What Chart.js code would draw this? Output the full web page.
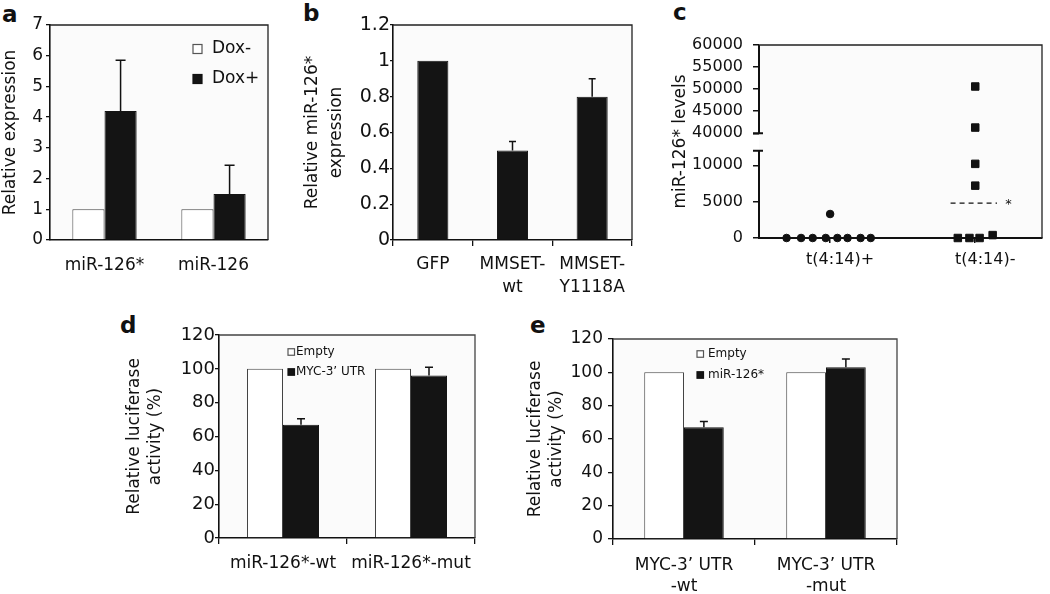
<!DOCTYPE html>
<html>
<head>
<meta charset="utf-8">
<script src="https://cdn.jsdelivr.net/npm/chart.js@4.4.1/dist/chart.umd.min.js"></script>
<style>
  body { margin: 0; background: #fff; width: 1050px; height: 594px; position: relative; overflow: hidden; }
  canvas { position: absolute; }
  .lbl { position: absolute; font: bold 23px "DejaVu Sans"; line-height: 23px; color: #111; }
</style>
</head>
<body>
<div class="lbl" style="left:2px;top:3px">a</div>
<div class="lbl" style="left:303px;top:2px">b</div>
<div class="lbl" style="left:673px;top:1px">c</div>
<div class="lbl" style="left:120px;top:314px">d</div>
<div class="lbl" style="left:530px;top:314px">e</div>

<canvas id="chartA" width="290" height="297" style="left:0px;top:0px"></canvas>
<canvas id="chartB" width="349" height="297" style="left:301px;top:0px"></canvas>
<canvas id="chartC" width="380" height="297" style="left:670px;top:0px"></canvas>
<canvas id="chartD" width="365" height="297" style="left:125px;top:297px"></canvas>
<canvas id="chartE" width="400" height="297" style="left:525px;top:297px"></canvas>

<script>
// ---- data: panel a
const aCategories = ['miR-126*', 'miR-126'];
const aDoxMinus = [1, 1];
const aDoxPlus = [4.2, 1.5];
const aDoxPlusErr = [5.85, 2.43];
const aTicks = [0, 1, 2, 3, 4, 5, 6, 7];

// ---- data: panel b
const bCategories = ['GFP', ['MMSET-', 'wt'], ['MMSET-', 'Y1118A']];
const bValues = [1, 0.5, 0.8];
const bErr = [null, 0.55, 0.9];
const bTicks = [0, 0.2, 0.4, 0.6, 0.8, 1, 1.2];

// ---- data: panel c (x = category index + jitter)
const cCategories = ['t(4:14)+', 't(4:14)-'];
const cPlusX = [0.70, 0.80, 0.88, 0.97, 1.05, 1.12, 1.21, 1.28, 1.00];
const cPlusY = [0, 0, 0, 0, 0, 0, 0, 0, 3300];
const cMinusX = [1.88, 1.96, 2.03, 2.12, 2.00, 2.00, 2.00, 2.00];
const cMinusY = [0, 0, 0, 400, 7200, 10200, 41300, 50600];
const cMeanX = [1.83, 2.15];
const cMeanY = [4800, 4800];
const cStar = { x: 2.23, y: 4800 };
const cTicks = [0, 5000, 10000, 40000, 45000, 50000, 55000, 60000];
const cLowMax = 12000;
const cHighMin = 40000;

// ---- data: panel d
const dCategories = ['miR-126*-wt', 'miR-126*-mut'];
const dEmpty = [100, 100];
const dMyc = [67, 96];
const dMycErr = [70.5, 101];
const dTicks = [0, 20, 40, 60, 80, 100, 120];

// ---- data: panel e
const eCategories = [['MYC-3\u2019 UTR', '-wt'], ['MYC-3\u2019 UTR', '-mut']];
const eEmpty = [100, 100];
const eMir = [67, 103];
const eMirErr = [70.5, 108];
const eTicks = [0, 20, 40, 60, 80, 100, 120];

Chart.defaults.font.family = '"DejaVu Sans"';
Chart.defaults.color = '#111';
Chart.defaults.animation = false;

const INK = '#111';

// error bars, upward only
const errorBars = {
  id: 'errorBars',
  afterDatasetsDraw(chart, args, opts) {
    const ctx = chart.ctx;
    chart.data.datasets.forEach((ds, i) => {
      if (!ds.errTop) return;
      const meta = chart.getDatasetMeta(i);
      const ys = chart.scales[meta.yAxisID];
      ctx.save();
      ctx.strokeStyle = INK;
      ctx.lineWidth = 1.5;
      meta.data.forEach((bar, j) => {
        const e = ds.errTop[j];
        if (e == null) return;
        const top = ys.getPixelForValue(e);
        const half = (opts.cap || 8) / 2;
        ctx.beginPath();
        ctx.moveTo(bar.x, bar.y);
        ctx.lineTo(bar.x, top);
        ctx.moveTo(bar.x - half, top);
        ctx.lineTo(bar.x + half, top);
        ctx.stroke();
      });
      ctx.restore();
    });
  }
};

// plot background + top/right frame lines
const frame = {
  id: 'frame',
  beforeDraw(chart) {
    const { ctx, chartArea: a } = chart;
    ctx.save();
    ctx.fillStyle = '#fbfbfb';
    ctx.fillRect(a.left, a.top, a.right - a.left, a.bottom - a.top);
    ctx.restore();
  },
  afterDraw(chart, args, opts) {
    const { ctx, chartArea: a } = chart;
    ctx.save();
    ctx.strokeStyle = opts.color || '#222';
    ctx.lineWidth = 1.3;
    ctx.beginPath();
    ctx.moveTo(a.left, a.top);
    ctx.lineTo(a.right, a.top);
    ctx.lineTo(a.right, a.bottom);
    ctx.stroke();
    ctx.restore();
  }
};

// legend with little boxes at a fixed spot
const boxLegend = {
  id: 'boxLegend',
  afterDraw(chart, args, o) {
    if (!o.rows) return;
    const ctx = chart.ctx;
    ctx.save();
    ctx.font = o.size + 'px "DejaVu Sans"';
    ctx.textBaseline = 'middle';
    chart.data.datasets.forEach((ds, i) => {
      const cy = o.rows[i];
      ctx.fillStyle = ds.backgroundColor;
      ctx.fillRect(o.x, cy - o.box / 2, o.box, o.box);
      ctx.strokeStyle = ds.backgroundColor === '#ffffff' ? '#555' : INK;
      ctx.lineWidth = 1.2;
      ctx.strokeRect(o.x, cy - o.box / 2, o.box, o.box);
      ctx.fillStyle = INK;
      ctx.fillText(ds.label, o.textX, cy);
    });
    ctx.restore();
  }
};

// broken y scale for panel c
class BrokenScale extends Chart.LinearScale {
  static id = 'broken';
  static defaults = Chart.LinearScale.defaults;
  buildTicks() { return cTicks.map(v => ({ value: v })); }
  frac(v) {
    const lowFrac = 0.452, highFrac = 0.5425;
    if (v <= cLowMax) return v / cLowMax * lowFrac;
    return highFrac + (v - cHighMin) / (this.max - cHighMin) * (1 - highFrac);
  }
  getPixelForValue(v) { return this.bottom - this.frac(v) * (this.bottom - this.top); }
  getValueForPixel(p) {
    const f = (this.bottom - p) / (this.bottom - this.top);
    return f <= 0.452 ? f / 0.452 * cLowMax : cHighMin + (f - 0.5425) / (1 - 0.5425) * (this.max - cHighMin);
  }
}
Chart.register(BrokenScale);

const brokenAxis = {
  id: 'brokenAxis',
  beforeDatasetsDraw(chart) {
    const ys = chart.scales.y;
    if (ys.type !== 'broken') return;
    const ctx = chart.ctx;
    const x = chart.chartArea.left;
    const yLowTop = ys.getPixelForValue(cLowMax);
    const yHighBot = ys.getPixelForValue(cHighMin);
    ctx.save();
    ctx.strokeStyle = INK;
    ctx.lineWidth = 2;
    ctx.beginPath();
    ctx.moveTo(x, ys.bottom); ctx.lineTo(x, yLowTop);
    ctx.moveTo(x - 6, yLowTop); ctx.lineTo(x + 4, yLowTop);
    ctx.moveTo(x, yHighBot); ctx.lineTo(x, ys.top);
    ctx.moveTo(x - 6, yHighBot); ctx.lineTo(x + 4, yHighBot);
    ctx.stroke();
    // the asterisk next to the dashed line
    ctx.fillStyle = INK;
    ctx.font = '13px "DejaVu Sans"';
    ctx.textAlign = 'center';
    ctx.textBaseline = 'middle';
    ctx.fillText('*', chart.scales.x.getPixelForValue(cStar.x), ys.getPixelForValue(cStar.y) + 2);
    ctx.restore();
  }
};

Chart.register(errorBars, frame, boxLegend, brokenAxis);

function yAxis(ticksArr, o) {
  return {
    min: ticksArr[0],
    max: ticksArr[ticksArr.length - 1],
    afterBuildTicks: s => { s.ticks = ticksArr.map(v => ({ value: v })); },
    ticks: { font: { size: o.size }, padding: o.pad, callback: v => String(v), autoSkip: false },
    grid: { drawOnChartArea: false, tickLength: o.tick, color: INK, lineWidth: 1.3 },
    border: { color: INK, width: 1.6 },
    title: { display: true, text: o.title, font: { size: 17, lineHeight: o.lh || 1.2 }, padding: 0 },
    afterFit: s => { s.width = o.width; }
  };
}

function xAxis(o) {
  return {
    ticks: { font: { size: 17, lineHeight: o.lh || 1.2 }, padding: o.pad, maxRotation: 0, autoSkip: false },
    grid: { drawOnChartArea: false, drawTicks: o.tick > 0, tickLength: o.tick, color: INK, lineWidth: 1.3, offset: true },
    border: { color: INK, width: 1.6 },
    afterFit: s => { s.height = o.height; }
  };
}

const white = { backgroundColor: '#ffffff', borderColor: '#444', borderWidth: 1 };
const black = { backgroundColor: '#141414', borderColor: '#141414', borderWidth: 1 };

// panel a
new Chart(document.getElementById('chartA'), {
  type: 'bar',
  data: {
    labels: aCategories,
    datasets: [
      { label: 'Dox-', data: aDoxMinus, ...white },
      { label: 'Dox+', data: aDoxPlus, errTop: aDoxPlusErr, ...black }
    ]
  },
  options: {
    responsive: false,
    layout: { padding: { top: 25, right: 22, left: 0, bottom: 0 } },
    datasets: { bar: { categoryPercentage: 0.59, barPercentage: 1 } },
    scales: {
      x: xAxis({ pad: 15, tick: 0, height: 57 }),
      y: yAxis(aTicks, { size: 17, pad: 3, tick: 4, width: 50, title: 'Relative expression' })
    },
    plugins: {
      legend: { display: false }, tooltip: { enabled: false },
      errorBars: { cap: 10 },
      boxLegend: { x: 193, textX: 212, rows: [49, 79], box: 9, size: 17 }
    }
  }
});

// panel b
new Chart(document.getElementById('chartB'), {
  type: 'bar',
  data: {
    labels: bCategories,
    datasets: [{ label: 'b', data: bValues, errTop: bErr, ...black }]
  },
  options: {
    responsive: false,
    layout: { padding: { top: 25, right: 18, left: 0, bottom: 0 } },
    datasets: { bar: { categoryPercentage: 1, barPercentage: 0.39 } },
    scales: {
      x: xAxis({ pad: 8, tick: 6, height: 57, lh: 1.3 }),
      y: yAxis(bTicks, { size: 19, pad: 0, tick: 3, width: 92, lh: 1.4, title: ['Relative miR-126*', 'expression'] })
    },
    plugins: {
      legend: { display: false }, tooltip: { enabled: false },
      errorBars: { cap: 7 }
    }
  }
});

// panel c
new Chart(document.getElementById('chartC'), {
  type: 'scatter',
  data: {
    datasets: [
      { label: cCategories[0], data: cPlusX.map((x, i) => ({ x, y: cPlusY[i] })),
        pointStyle: 'circle', pointRadius: 3.8, backgroundColor: INK, borderColor: INK, clip: false },
      { label: cCategories[1], data: cMinusX.map((x, i) => ({ x, y: cMinusY[i] })),
        pointStyle: 'rect', pointRadius: 5.3, backgroundColor: INK, borderColor: INK, clip: false },
      { label: 'mean', data: cMeanX.map((x, i) => ({ x, y: cMeanY[i] })), showLine: true,
        pointRadius: 0, borderColor: INK, borderWidth: 1.2, borderDash: [5, 4] }
    ]
  },
  options: {
    responsive: false,
    layout: { padding: { top: 45, right: 8, left: 0, bottom: 0 } },
    scales: {
      x: {
        type: 'linear', min: 0.51, max: 2.46,
        afterBuildTicks: s => { s.ticks = [{ value: 1 }, { value: 2 }]; },
        ticks: { font: { size: 16 }, padding: 7, labelOffset: 10, callback: v => cCategories[v - 1] },
        grid: { drawOnChartArea: false, tickLength: 5, color: INK, lineWidth: 1.5 },
        border: { color: INK, width: 2 },
        afterFit: s => { s.height = 59; }
      },
      y: {
        type: 'broken', min: 0, max: 60000,
        ticks: { font: { size: 16 }, padding: 10, autoSkip: false, callback: v => String(v) },
        grid: { drawOnChartArea: false, tickLength: 6, color: INK, lineWidth: 1.5 },
        border: { display: false },
        title: { display: true, text: 'miR-126* levels', font: { size: 17 }, padding: 0 },
        afterFit: s => { s.width = 89; }
      }
    },
    plugins: { legend: { display: false }, tooltip: { enabled: false } }
  }
});

// panel d
new Chart(document.getElementById('chartD'), {
  type: 'bar',
  data: {
    labels: dCategories,
    datasets: [
      { label: 'Empty', data: dEmpty, ...white },
      { label: 'MYC-3\u2019 UTR', data: dMyc, errTop: dMycErr, ...black }
    ]
  },
  options: {
    responsive: false,
    layout: { padding: { top: 38, right: 15, left: 0, bottom: 0 } },
    datasets: { bar: { categoryPercentage: 0.5625, barPercentage: 1 } },
    scales: {
      x: xAxis({ pad: 9, tick: 6, height: 56 }),
      y: yAxis(dTicks, { size: 18, pad: 0, tick: 4, width: 94, lh: 1.18, title: ['Relative luciferase', 'activity (%)'] })
    },
    plugins: {
      legend: { display: false }, tooltip: { enabled: false },
      frame: { color: '#444' },
      errorBars: { cap: 8 },
      boxLegend: { x: 163, textX: 171, rows: [55, 75], box: 6.5, size: 12 }
    }
  }
});

// panel e
new Chart(document.getElementById('chartE'), {
  type: 'bar',
  data: {
    labels: eCategories,
    datasets: [
      { label: 'Empty', data: eEmpty, ...white },
      { label: 'miR-126*', data: eMir, errTop: eMirErr, ...black }
    ]
  },
  options: {
    responsive: false,
    layout: { padding: { top: 42, right: 28, left: 0, bottom: 0 } },
    datasets: { bar: { categoryPercentage: 0.56, barPercentage: 1 } },
    scales: {
      x: xAxis({ pad: 10, tick: 6, height: 55, lh: 1.24 }),
      y: yAxis(eTicks, { size: 17, pad: 5, tick: 5, width: 88, lh: 1.24, title: ['Relative luciferase', 'activity (%)'] })
    },
    plugins: {
      legend: { display: false }, tooltip: { enabled: false },
      frame: { color: '#444' },
      errorBars: { cap: 8 },
      boxLegend: { x: 172, textX: 183, rows: [57, 78], box: 6.5, size: 12 }
    }
  }
});
</script>
</body>
</html>
